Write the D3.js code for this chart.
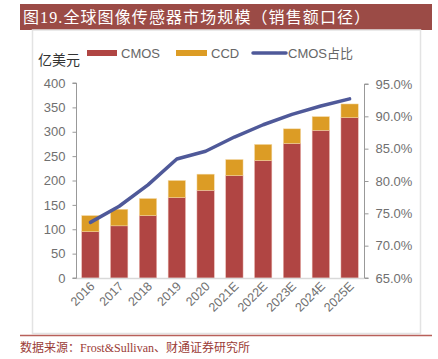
<!DOCTYPE html>
<html><head><meta charset="utf-8">
<script src="https://cdn.jsdelivr.net/npm/d3@7/dist/d3.min.js"></script>
<style>body{margin:0;background:#fff;}svg{display:block;}</style>
</head><body>
<svg id="c" width="438" height="359"></svg>
<script>
const categories = ["2016","2017","2018","2019","2020","2021E","2022E","2023E","2024E","2025E"];
const cmos = [95, 107, 128, 165, 180, 210, 241, 276, 303, 329];
const ccd = [33, 34, 35, 35, 33, 33, 33, 30, 28, 28];
const cmosShare = [73.6, 76.1, 79.4, 83.4, 84.6, 86.8, 88.7, 90.3, 91.6, 92.7];
const leftTicks = [0, 50, 100, 150, 200, 250, 300, 350, 400];
const rightTicks = [65, 70, 75, 80, 85, 90, 95];

const svg = d3.select("#c");
const cjk = "'Liberation Sans', 'Noto Sans CJK SC', sans-serif";
const serif = "'Liberation Serif', 'Noto Sans CJK SC', serif";

// title bar
svg.append("rect").attr("x",20).attr("y",4).attr("width",412).attr("height",26).attr("fill","#9b4b46");
svg.append("text").attr("x",23).attr("y",23).attr("fill","#fff").attr("font-size",16)
  .attr("letter-spacing",1.1)
  .attr("font-family",serif).text("图19.全球图像传感器市场规模（销售额口径）");

// panel
svg.append("rect").attr("x",32.5).attr("y",30).attr("width",388).attr("height",303.5)
  .attr("fill","none").attr("stroke","#e3e3e3").attr("stroke-width",1.5);
// footer line
svg.append("line").attr("x1",20).attr("x2",432).attr("y1",335.5).attr("y2",335.5)
  .attr("stroke","#b8605a").attr("stroke-width",1.5);
svg.append("text").attr("x",20).attr("y",352).attr("fill","#9b3c37").attr("font-size",12)
  .attr("font-family",serif).text("数据来源：Frost&Sullivan、财通证券研究所");

const x = d3.scaleBand().domain(categories).range([76,364]).paddingInner(0.4).paddingOuter(0.2);
const y = d3.scaleLinear().domain([0,400]).range([278,83]);
const y2 = d3.scaleLinear().domain([65,95]).range([278,84]);

// bars
const g = svg.append("g");
g.selectAll(".cm").data(categories).enter().append("rect")
  .attr("x",d=>x(d)).attr("width",x.bandwidth())
  .attr("y",(d,i)=>y(cmos[i])).attr("height",(d,i)=>y(0)-y(cmos[i]))
  .attr("fill","#b04543").attr("stroke","#e8b0a8").attr("stroke-width",0.5);
g.selectAll(".cc").data(categories).enter().append("rect")
  .attr("x",d=>x(d)).attr("width",x.bandwidth())
  .attr("y",(d,i)=>y(cmos[i]+ccd[i])).attr("height",(d,i)=>y(cmos[i])-y(cmos[i]+ccd[i]))
  .attr("fill","#dc9c25").attr("stroke","#f3d9a6").attr("stroke-width",0.5);

// bottom axis line
svg.append("line").attr("x1",76).attr("x2",364).attr("y1",278.5).attr("y2",278.5)
  .attr("stroke","#d9d9d9").attr("stroke-width",1.5);

// left axis
const la = svg.append("g").attr("transform","translate(76.5,0)")
  .call(d3.axisLeft(y).tickValues(leftTicks).tickSize(4).tickPadding(7));
la.select(".domain").attr("stroke","#999").attr("d","M-4,"+y(400)+"H0V"+y(0)+"H-4");
la.selectAll(".tick line").attr("stroke","#999");
la.selectAll("text").attr("fill","#707070").attr("font-size",13).attr("font-family","'Liberation Sans', sans-serif");

// right axis
const ra = svg.append("g").attr("transform","translate(364.5,0)")
  .call(d3.axisRight(y2).tickValues(rightTicks).tickSize(4).tickPadding(7).tickFormat(d=>d.toFixed(1)+"%"));
ra.select(".domain").attr("stroke","#999").attr("d","M4,"+y2(95)+"H0V"+y2(65)+"H4");
ra.selectAll(".tick line").attr("stroke","#999");
ra.selectAll("text").attr("fill","#707070").attr("font-size",13).attr("font-family","'Liberation Sans', sans-serif");

// x labels
svg.selectAll(".xl").data(categories).enter().append("text")
  .attr("transform",d=>`translate(${x(d)+x.bandwidth()/2+5},${287}) rotate(-45)`)
  .attr("text-anchor","end").attr("fill","#707070").attr("font-size",12.5)
  .attr("font-family","'Liberation Sans', sans-serif").text(d=>d);

// line
const line = d3.line().x((d,i)=>x(categories[i])+x.bandwidth()/2).y(d=>y2(d));
svg.append("path").datum(cmosShare).attr("d",line).attr("fill","none")
  .attr("stroke","#4f5999").attr("stroke-width",3.5).attr("stroke-linecap","round").attr("stroke-linejoin","round");

// y unit
svg.append("text").attr("x",38).attr("y",65).attr("fill","#333").attr("font-size",14)
  .attr("font-family",cjk).text("亿美元");

// legend
const lg = svg.append("g").attr("font-family",cjk).attr("font-size",13).attr("fill","#666");
lg.append("rect").attr("x",87).attr("y",50).attr("width",30).attr("height",6).attr("fill","#b04543");
lg.append("text").attr("x",121).attr("y",58).text("CMOS");
lg.append("rect").attr("x",176).attr("y",50).attr("width",31).attr("height",6).attr("fill","#dc9c25");
lg.append("text").attr("x",211).attr("y",58).text("CCD");
lg.append("line").attr("x1",253).attr("x2",286).attr("y1",53).attr("y2",53)
  .attr("stroke","#4f5999").attr("stroke-width",3.5).attr("stroke-linecap","round");
lg.append("text").attr("x",288).attr("y",58).text("CMOS占比");
</script>
</body></html>
